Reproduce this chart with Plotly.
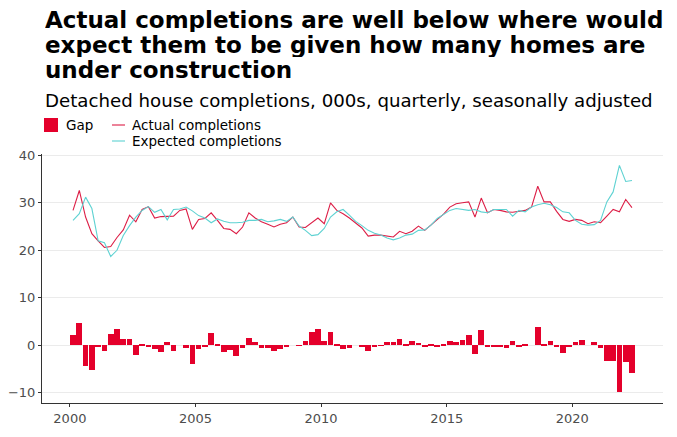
import plotly.graph_objects as go

start_year = 2000
n_quarters = 90
quarters = [start_year + q / 4 + 0.125 for q in range(n_quarters)]

actual = [28.4, 32.6, 27.0, 23.5, 22.0, 20.6, 20.8, 22.7, 24.3, 27.4,
          26.0, 28.6, 29.2, 26.8, 27.1, 27.1, 27.2, 28.4, 28.7, 24.4,
          26.5, 26.7, 27.9, 26.3, 24.6, 24.4, 23.5, 24.9, 27.9, 26.8,
          26.0, 25.5, 24.9, 25.5, 25.8, 27.0, 24.9, 24.8, 25.9, 26.8,
          25.6, 30.0, 28.4, 27.7, 26.8, 25.8, 24.7, 23.0, 23.2, 23.2,
          23.0, 22.8, 24.0, 23.5, 24.0, 25.1, 24.2, 25.3, 26.5, 27.6,
          29.1, 29.8, 30.0, 30.2, 27.0, 31.0, 27.9, 28.6, 28.4, 28.1,
          28.0, 28.2, 28.4, 29.1, 33.5, 30.2, 30.2, 28.2, 26.5, 26.1,
          26.5, 26.3, 25.6, 26.0, 25.8, 27.2, 28.6, 28.1, 30.7, 29.0]

expected = [26.3, 27.7, 31.2, 28.8, 22.0, 21.6, 18.7, 20.0, 23.1, 25.2,
            27.0, 28.4, 29.2, 28.0, 28.6, 26.4, 28.6, 28.7, 29.1, 28.3,
            27.3, 26.8, 25.8, 26.6, 26.1, 25.8, 25.8, 25.9, 26.3, 26.3,
            26.5, 26.0, 26.2, 26.5, 26.1, 27.0, 25.1, 24.2, 23.1, 23.3,
            24.6, 27.0, 28.1, 28.6, 27.4, 26.1, 25.2, 24.2, 23.6, 23.2,
            22.6, 22.2, 22.6, 23.2, 23.4, 24.2, 24.3, 25.3, 26.7, 27.5,
            28.4, 28.8, 28.6, 28.4, 28.6, 28.1, 27.9, 28.6, 28.6, 28.6,
            27.2, 28.4, 28.1, 29.1, 29.6, 29.9, 29.6, 29.0, 28.1, 27.9,
            26.3, 25.5, 25.3, 25.4, 26.3, 30.2, 32.3, 37.9, 34.5, 34.7]

gap = [2.1, 4.7, -4.4, -5.3, -0.2, -1.2, 2.3, 3.4, 1.4, 1.4,
       -2.0, 0.2, -0.2, -0.8, -1.5, 0.7, -1.3, 0.0, -0.5, -4.0,
       -0.8, -0.2, 2.5, 0.3, -1.4, -1.1, -2.3, -0.6, 1.5, 0.7,
       -0.6, -0.6, -1.3, -0.9, -0.3, 0.0, -0.1, 0.8, 2.8, 3.5,
       0.9, 2.7, 0.1, -0.8, -0.5, 0.0, -0.2, -1.2, -0.2, -0.1,
       0.7, 0.7, 1.3, 0.1, 0.8, 0.5, -0.2, 0.3, -0.2, 0.1,
       0.9, 0.7, 1.0, 2.1, -1.8, 3.2, -0.2, -0.2, -0.2, -0.5,
       0.8, -0.4, 0.3, 0.0, 3.9, 0.1, 0.9, -0.2, -1.6, -0.2,
       0.7, 1.0, 0.0, 0.7, -0.5, -3.3, -3.4, -9.8, -3.6, -5.8]

x_ticks = [2000, 2005, 2010, 2015, 2020]
y_ticks = [-10, 0, 10, 20, 30, 40]

title_lines = ["Actual completions are well below where would",
               "expect them to be given how many homes are",
               "under construction"]
subtitle = "Detached house completions, 000s, quarterly, seasonally adjusted"

GAP_COL = "#E4002B"
ACT_COL = "#DC1E46"
EXP_COL = "#5ED2D2"
FONT = "DejaVu Sans"

# page body has an 8px margin; figure sized to fill the rest of the window
OFF = 8
W, H = 677 - OFF, 437 - OFF
ML, MR, MT, MB = 42 - OFF, 14, 154 - OFF, 34
PW, PH = W - ML - MR, H - MT - MB


def px(xp):
    return (xp - OFF - ML) / PW


def py(yp):
    return (H - MB - (yp - OFF)) / PH


fig = go.Figure()
fig.add_trace(go.Bar(x=quarters, y=gap, width=0.225, marker=dict(color=GAP_COL, line=dict(width=0)),
                     name="Gap", showlegend=False))
fig.add_trace(go.Scatter(x=quarters, y=actual, mode="lines", line=dict(color=ACT_COL, width=1.1),
                         name="Actual completions", showlegend=False))
fig.add_trace(go.Scatter(x=quarters, y=expected, mode="lines", line=dict(color=EXP_COL, width=1.1),
                         name="Expected completions", showlegend=False))

annotations = []
for k, line in enumerate(title_lines):
    annotations.append(dict(text="<b>" + line + "</b>", x=px(43), y=py(20 + 25 * k), xref="paper", yref="paper",
                            xanchor="left", yanchor="middle", showarrow=False, height=24,
                            font=dict(family=FONT, size=23, color="#000000")))
annotations.append(dict(text=subtitle, x=px(43), y=py(100), xref="paper", yref="paper",
                        xanchor="left", yanchor="middle", showarrow=False,
                        font=dict(family=FONT, size=18.2, color="#000000")))
leg_font = dict(family=FONT, size=13.5, color="#000000")
annotations.append(dict(text="Gap", x=px(64), y=py(125), xref="paper", yref="paper",
                        xanchor="left", yanchor="middle", showarrow=False, font=leg_font))
annotations.append(dict(text="Actual completions", x=px(130), y=py(125), xref="paper", yref="paper",
                        xanchor="left", yanchor="middle", showarrow=False, font=leg_font))
annotations.append(dict(text="Expected completions", x=px(130), y=py(141), xref="paper", yref="paper",
                        xanchor="left", yanchor="middle", showarrow=False, font=leg_font))

shapes = [
    dict(type="rect", xref="paper", yref="paper", x0=px(44), x1=px(58), y0=py(132), y1=py(118),
         fillcolor=GAP_COL, line=dict(width=0)),
    dict(type="line", xref="paper", yref="paper", x0=px(112), x1=px(125), y0=py(125), y1=py(125),
         line=dict(color=ACT_COL, width=1.1)),
    dict(type="line", xref="paper", yref="paper", x0=px(112), x1=px(125), y0=py(141), y1=py(141),
         line=dict(color=EXP_COL, width=1.1)),
]

fig.update_layout(
    width=W, height=H,
    margin=dict(l=ML, r=MR, t=MT, b=MB, pad=0, autoexpand=False),
    paper_bgcolor="white", plot_bgcolor="white",
    font=dict(family=FONT, size=13, color="#4D4D4D"),
    bargap=0,
    annotations=annotations,
    shapes=shapes,
    showlegend=False,
    xaxis=dict(range=[1998.89, 2023.61], tickvals=x_ticks, ticktext=[str(t) for t in x_ticks],
               automargin=False,
               showgrid=False, zeroline=False, showline=True, linecolor="#333333", linewidth=1.2,
               ticks="outside", ticklen=3, tickcolor="#333333", tickwidth=1.1,
               tickfont=dict(family=FONT, size=13, color="#4D4D4D")),
    yaxis=dict(range=[-12.19, 40.29], tickvals=y_ticks, showgrid=True, gridcolor="#EBEBEB", gridwidth=1,
               automargin=False,
               zeroline=False, showline=True, linecolor="#333333", linewidth=1.2,
               ticks="outside", ticklen=3, tickcolor="#333333", tickwidth=1.1,
               tickfont=dict(family=FONT, size=13, color="#4D4D4D")),
)

fig.write_html("out.html")
